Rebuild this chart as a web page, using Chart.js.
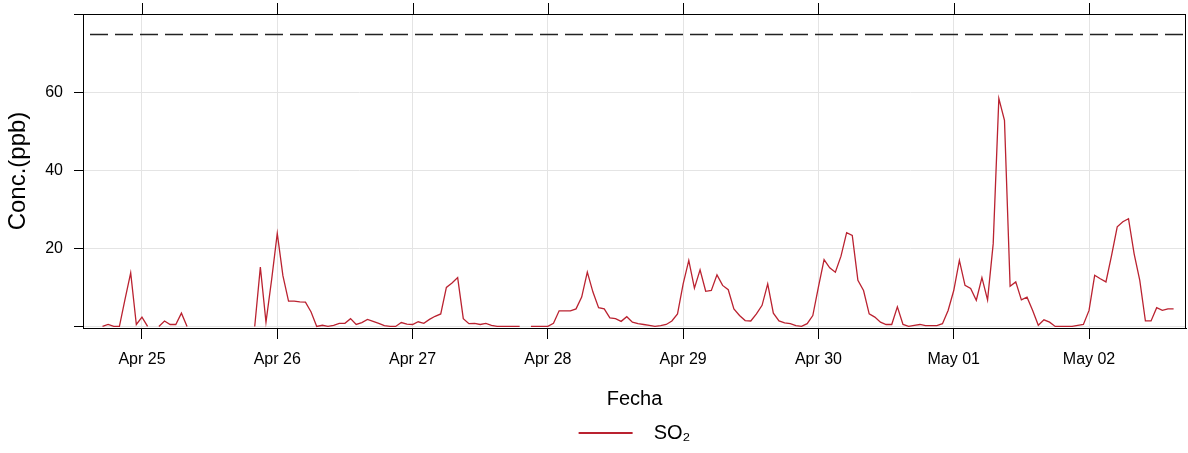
<!DOCTYPE html>
<html><head><meta charset="utf-8">
<script src="https://cdn.jsdelivr.net/npm/chart.js@4.4.1/dist/chart.umd.min.js"></script>
<style>html,body{margin:0;padding:0;background:#fff;}#wrap{width:1188px;height:453px;}</style>
</head><body><div id="wrap"><canvas id="c" width="1188" height="453"></canvas></div>
<script>
// hourly SO2 concentrations (ppb); first value at Apr 24 17:00 (hour -7 relative to Apr 25 00:00)
const startHour = -7;
const so2 = [
  0, 0.5, 0, 0, 7, 13.7, 0.5,
  2.4, 0, null, 0, 1.4, 0.5, 0.5, 3.4, 0,
  null, null, null, null, null, null, null, null, null, null, null,
  0, 15.2, 1.1, 12, 23.8, 13, 6.5, 6.5, 6.3, 6.2,
  3.7, 0, 0.3, 0, 0.3, 0.8, 0.8, 2.0, 0.5, 1.0,
  1.8, 1.3, 0.8, 0.2, 0, 0, 1.0, 0.6, 0.5, 1.2,
  0.8, 1.8, 2.6, 3.2, 10, 11.1, 12.5, 2.0, 0.7, 0.8,
  0.5, 0.8, 0.3, 0, 0, 0, 0, 0, null, 0,
  0, 0, 0, 0.8, 4, 4, 4, 4.5, 7.5, 13.9,
  8.8, 4.8, 4.5, 2.2, 2.0, 1.3, 2.5, 1.1, 0.7, 0.5,
  0.3, 0, 0.2, 0.5, 1.4, 3.2, 10.9, 16.9, 9.8, 14.5,
  9, 9.2, 13.2, 10.5, 9.4, 4.5, 2.8, 1.5, 1.4, 3.2,
  5.4, 10.9, 3.4, 1.4, 0.9, 0.7, 0.2, 0, 0.7, 2.8,
  10.1, 17.1, 15, 13.9, 18, 24, 23.3, 11.8, 9.2, 3.2,
  2.4, 1.1, 0.5, 0.5, 5, 0.5, 0, 0.3, 0.5, 0.2,
  0.2, 0.2, 0.7, 4.1, 9.2, 16.9, 10.5, 9.7, 6.7, 12.5,
  6.8, 21.2, 58.4, 52.8, 10.3, 11.4, 6.8, 7.5, 4.1, 0.3,
  1.7, 1.1, 0, 0, 0, 0, 0.3, 0.5, 4.1, 13.1,
  12.2, 11.4, 18.2, 25.5, 26.8, 27.6, 18.6, 11.8, 1.4, 1.4,
  4.8, 4.1, 4.5, 4.5
];
const dayTicks = [0, 24, 48, 72, 96, 120, 144, 168];
const dayLabels = ['Apr 25', 'Apr 26', 'Apr 27', 'Apr 28', 'Apr 29', 'Apr 30', 'May 01', 'May 02'];
const yTicks = [0, 20, 40, 60, 80];
const yTickLabels = ['', '20', '40', '60', ''];
const limitValue = 75;
const seriesName = 'SO\u2082';
const xTitle = 'Fecha';
const yTitle = 'Conc.(ppb)';

const X_MIN = -10.46, X_MAX = 185.2, Y_MIN = -0.4, Y_MAX = 80;
const LINE_COLOR = '#BA2230';
const FONT = "'Liberation Sans',Arial,sans-serif";

const points = so2.map((v, i) => ({x: startHour + i, y: v}));

const framePlugin = {
  id: 'frame',
  beforeDatasetsDraw(chart) {
    const {ctx, chartArea: a, scales} = chart;
    const y = Math.round(scales.y.getPixelForValue(limitValue)) + 0.5;
    ctx.save();
    ctx.beginPath();
    ctx.rect(a.left, a.top, a.right - a.left, a.bottom - a.top);
    ctx.clip();
    ctx.strokeStyle = '#222';
    ctx.lineWidth = 1.3;
    ctx.setLineDash([18, 7]);
    ctx.lineDashOffset = 18;
    ctx.beginPath();
    ctx.moveTo(a.left, y);
    ctx.lineTo(a.right, y);
    ctx.stroke();
    ctx.restore();
  },
  afterDraw(chart) {
    const {ctx, chartArea: a, scales} = chart;
    ctx.save();
    ctx.strokeStyle = '#000';
    ctx.lineWidth = 1;
    ctx.strokeRect(Math.round(a.left) + 0.5, Math.round(a.top) + 0.5, Math.round(a.right - a.left) - 1, Math.round(a.bottom - a.top));
    ctx.beginPath();
    dayTicks.forEach(v => {
      const px = Math.round(scales.x.getPixelForValue(v)) + 0.5;
      ctx.moveTo(px, a.top);
      ctx.lineTo(px, a.top - 11);
    });
    ctx.stroke();
    ctx.restore();
  }
};

new Chart(document.getElementById('c'), {
  type: 'line',
  data: {
    datasets: [{
      label: seriesName,
      data: points,
      borderColor: LINE_COLOR,
      backgroundColor: LINE_COLOR,
      borderWidth: 1.3,
      pointRadius: 0,
      tension: 0,
      spanGaps: false
    }]
  },
  options: {
    responsive: false,
    animation: false,
    devicePixelRatio: 1,
    layout: {padding: {top: 14, right: 2, left: 0, bottom: 0}},
    plugins: {
      tooltip: {enabled: false},
      legend: {
        display: true,
        position: 'bottom',
        fullSize: false,
        labels: {
          boxWidth: 54,
          boxHeight: 2,
          padding: 6,
          color: '#000',
          font: {family: FONT, size: 20},
          generateLabels: () => [{
            text: '  ' + seriesName,
            fillStyle: LINE_COLOR,
            strokeStyle: LINE_COLOR,
            lineWidth: 0,
            hidden: false,
            datasetIndex: 0
          }]
        }
      }
    },
    scales: {
      x: {
        type: 'linear',
        min: X_MIN,
        max: X_MAX,
        afterBuildTicks: (s) => { s.ticks = dayTicks.map(v => ({value: v})); },
        afterFit: (s) => { s.height = 89; s.paddingLeft = 0; s.paddingRight = 0; },
        ticks: {
          callback: (v) => dayLabels[dayTicks.indexOf(v)],
          color: '#000',
          font: {family: FONT, size: 16},
          padding: 11,
          maxRotation: 0,
          autoSkip: false
        },
        grid: {color: '#e4e4e4', tickColor: '#000', tickLength: 11, lineWidth: 1},
        border: {display: true, color: '#000', width: 1},
        title: {display: true, text: xTitle, color: '#000', font: {family: FONT, size: 20}, padding: {top: 10, bottom: 6}}
      },
      y: {
        type: 'linear',
        min: Y_MIN,
        max: Y_MAX,
        afterBuildTicks: (s) => { s.ticks = yTicks.map(v => ({value: v})); },
        afterFit: (s) => { s.width = 83; s.paddingTop = 0; s.paddingBottom = 0; },
        ticks: {
          callback: (v) => yTickLabels[yTicks.indexOf(v)],
          color: '#000',
          font: {family: FONT, size: 16},
          padding: 11
        },
        grid: {color: '#e4e4e4', tickColor: '#000', tickLength: 9, lineWidth: 1},
        border: {display: true, color: '#000', width: 1},
        title: {display: true, text: yTitle, color: '#000', font: {family: FONT, size: 24}, padding: {top: 4, bottom: 4}}
      }
    }
  },
  plugins: [framePlugin]
});
</script>
</body></html>
